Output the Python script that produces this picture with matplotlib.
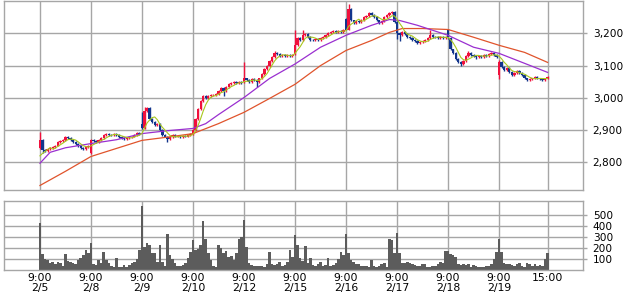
import numpy as np
import pandas as pd
import matplotlib
matplotlib.use("Agg")
import matplotlib.pyplot as plt

plt.rcParams['font.family'] = ['DejaVu Sans', 'Noto Sans CJK JP']

# ---------------- data ----------------
day_labels = ["9:00\n2/5", "9:00\n2/8", "9:00\n2/9", "9:00\n2/10", "9:00\n2/12",
              "9:00\n2/15", "9:00\n2/16", "9:00\n2/17", "9:00\n2/18", "9:00\n2/19", "15:00"]
bars_per_day = 20

day_open = [2843, 2830, 2920, 2888, 3048, 3135, 3245, 3235, 3210, 3070]

closes_d0 = [2870, 2838, 2835, 2840, 2845, 2848, 2852, 2862, 2865, 2870, 2878, 2876, 2870, 2862, 2858, 2850, 2845, 2842, 2848, 2850]
closes_d1 = [2870, 2865, 2862, 2868, 2875, 2885, 2888, 2886, 2884, 2888, 2885, 2878, 2874, 2873, 2876, 2878, 2880, 2886, 2890, 2888]
closes_d2 = [2905, 2960, 2968, 2935, 2925, 2915, 2918, 2900, 2885, 2880, 2872, 2878, 2884, 2880, 2882, 2879, 2882, 2880, 2884, 2888]
closes_d3 = [2900, 2935, 2965, 2990, 3005, 3000, 3005, 3008, 3010, 3012, 3020, 3030, 3022, 3035, 3042, 3045, 3048, 3047, 3050, 3045]
closes_d4 = [3060, 3055, 3050, 3058, 3055, 3050, 3060, 3075, 3090, 3100, 3115, 3128, 3140, 3135, 3130, 3132, 3130, 3132, 3130, 3132]
closes_d5 = [3165, 3185, 3180, 3195, 3198, 3188, 3180, 3178, 3182, 3180, 3185, 3190, 3195, 3200, 3205, 3208, 3205, 3208, 3205, 3210]
closes_d6 = [3212, 3275, 3240, 3232, 3238, 3235, 3242, 3250, 3255, 3262, 3258, 3250, 3240, 3232, 3238, 3250, 3258, 3262, 3265, 3235]
closes_d7 = [3200, 3195, 3205, 3198, 3190, 3185, 3180, 3175, 3170, 3172, 3175, 3178, 3185, 3195, 3190, 3188, 3186, 3188, 3187, 3190]
closes_d8 = [3185, 3150, 3140, 3120, 3112, 3105, 3115, 3130, 3138, 3132, 3130, 3128, 3130, 3128, 3132, 3130, 3135, 3138, 3132, 3128]
closes_d9 = [3112, 3095, 3085, 3092, 3080, 3072, 3078, 3082, 3076, 3070, 3060, 3055, 3058, 3060, 3065, 3060, 3058, 3056, 3060, 3065]

# notable wick extremes (bar index, price)
wick_highs = [(0, 2895), (40, 2955), (41, 2972), (80, 3110), (92, 3145), (100, 3210),
              (103, 3210), (121, 3290), (153, 3212), (160, 3215), (168, 3145), (180, 3116)]
wick_lows = [(1, 2828), (20, 2825), (50, 2862), (72, 3005), (85, 3033), (140, 3182),
             (141, 3175), (165, 3100), (171, 3120), (180, 3058)]

# closes before the first bar (seed for the short moving average)
seed_closes = [2800, 2805, 2810, 2815]

# longer moving averages (bar index, value)
ma_mid_idx = [0, 4, 10, 20, 30, 40, 50, 60, 65, 70, 80, 90, 100, 110, 120, 130, 137, 141, 148, 160, 170, 180, 190, 199]
ma_mid_val = [2797, 2831, 2845, 2858, 2870, 2889, 2898, 2905, 2920, 2948, 3001, 3060, 3105, 3157, 3194, 3225, 3243, 3240, 3225, 3194, 3157, 3138, 3107, 3079]
ma_long_idx = [0, 10, 20, 30, 40, 50, 60, 70, 80, 90, 100, 110, 120, 130, 137, 142, 150, 160, 170, 180, 190, 199]
ma_long_val = [2728, 2772, 2818, 2843, 2868, 2878, 2889, 2920, 2955, 2998, 3042, 3100, 3147, 3178, 3203, 3215, 3215, 3212, 3188, 3163, 3141, 3110]

volume = [
    425, 145, 100, 90, 65, 75, 55, 75, 60, 40, 145, 80, 75, 60, 50, 90, 105, 135, 180, 150,
    245, 55, 45, 90, 60, 160, 90, 60, 35, 30, 105, 30, 25, 45, 30, 45, 65, 75, 100, 180,
    580, 212, 245, 230, 155, 150, 75, 230, 70, 40, 330, 140, 100, 60, 35, 35, 45, 60, 110, 160,
    270, 180, 190, 230, 445, 280, 150, 90, 40, 30, 230, 200, 150, 170, 120, 130, 90, 150, 280, 300,
    455, 212, 60, 45, 40, 35, 35, 40, 30, 55, 160, 50, 45, 50, 75, 40, 45, 70, 180, 120,
    318, 227, 110, 80, 220, 60, 110, 45, 40, 50, 75, 40, 45, 110, 40, 45, 60, 100, 165, 135,
    330, 150, 90, 75, 55, 50, 40, 35, 35, 30, 90, 40, 30, 35, 55, 60, 30, 280, 275, 150,
    335, 150, 60, 60, 70, 65, 50, 45, 40, 35, 55, 50, 30, 30, 40, 40, 50, 70, 60, 170,
    175, 145, 135, 120, 50, 45, 50, 45, 50, 30, 45, 40, 25, 25, 25, 35, 40, 50, 100, 160,
    280, 160, 60, 50, 55, 45, 35, 50, 60, 40, 30, 60, 55, 40, 50, 35, 45, 40, 100, 155,
]

price_ticks = [2800, 2900, 3000, 3100, 3200]
price_tick_labels = ["2,800", "2,900", "3,000", "3,100", "3,200"]
vol_ticks = [100, 200, 300, 400, 500]
unit_label = "単位: 1000"

# ---------------- assemble ----------------
close = np.array(closes_d0 + closes_d1 + closes_d2 + closes_d3 + closes_d4 +
                 closes_d5 + closes_d6 + closes_d7 + closes_d8 + closes_d9, dtype=float)
n = len(close)
idx = np.arange(n)
opn = np.empty(n)
opn[1:] = close[:-1]
for d, o in enumerate(day_open):
    opn[d * bars_per_day] = o
hi = np.maximum(opn, close) + 3
lo = np.minimum(opn, close) - 3
for i, v in wick_highs:
    hi[i] = max(hi[i], v)
for i, v in wick_lows:
    lo[i] = min(lo[i], v)

ma_short = pd.Series(np.concatenate([seed_closes, close])).rolling(5, min_periods=1).mean().values[len(seed_closes):]

up_col = "#f0103c"
dn_col = "#12358c"
grid_col = "#a6a6a6"

W, H = 631, 295
fig = plt.figure(figsize=(W / 100, H / 100), dpi=100)
ax = fig.add_axes([4 / W, 1 - 190 / H, 579 / W, 189.5 / H])
axv = fig.add_axes([4 / W, 1 - 270 / H, 579 / W, 69 / H])

tick_pos = [d * bars_per_day for d in range(10)] + [n - 1]
xl = (-14.1, 212.9)

for a in (ax, axv):
    a.set_xlim(*xl)
    for s in a.spines.values():
        s.set_color(grid_col)
        s.set_linewidth(1)
    a.set_axisbelow(True)
    for xp in tick_pos:
        a.axvline(xp, color=grid_col, lw=1, zorder=0)
    a.yaxis.tick_right()
    a.tick_params(axis='y', length=3, width=1, color=grid_col, pad=4, labelsize=7.6)
    a.set_facecolor("white")

# price panel
ax.set_ylim(2714, 3302)
for yv in price_ticks:
    ax.axhline(yv, color=grid_col, lw=1, zorder=0)
ax.set_yticks(price_ticks)
ax.set_yticklabels(price_tick_labels)
ax.set_xticks([])

up = close >= opn
cols = np.where(up, up_col, dn_col)
ax.vlines(idx, lo, hi, colors=cols, lw=1.0, zorder=2)
body_h = np.maximum(np.abs(close - opn), 2.0)
ax.bar(idx, body_h, bottom=np.minimum(opn, close), width=0.9, color=cols, lw=0, zorder=3)

ax.plot(ma_long_idx, ma_long_val, color="#e0542c", lw=0.9, zorder=4)
ax.plot(ma_mid_idx, ma_mid_val, color="#9a2fd0", lw=0.9, zorder=4)
ax.plot(idx, ma_short, color="#a8c81e", lw=0.8, zorder=5)

# volume panel
axv.set_ylim(0, 627)
for yv in vol_ticks:
    axv.axhline(yv, color=grid_col, lw=1, zorder=0)
axv.set_yticks(vol_ticks)
axv.bar(idx, volume, width=1.0, color="#5c5c5c", lw=0, zorder=2)
axv.set_xticks(tick_pos)
axv.set_xticklabels(day_labels, fontsize=7.8, linespacing=0.95, va='top')
axv.tick_params(axis='x', length=0, pad=2.5)
axv.text(-11.8, 0.96, unit_label, transform=axv.get_yaxis_transform(), fontsize=8.6,
         family=['Noto Sans CJK JP', 'DejaVu Sans'],
         va='top', ha='left', zorder=6,
         bbox=dict(boxstyle='square,pad=0.05', fc='white', ec='none'))

fig.savefig("out.png", dpi=100)
